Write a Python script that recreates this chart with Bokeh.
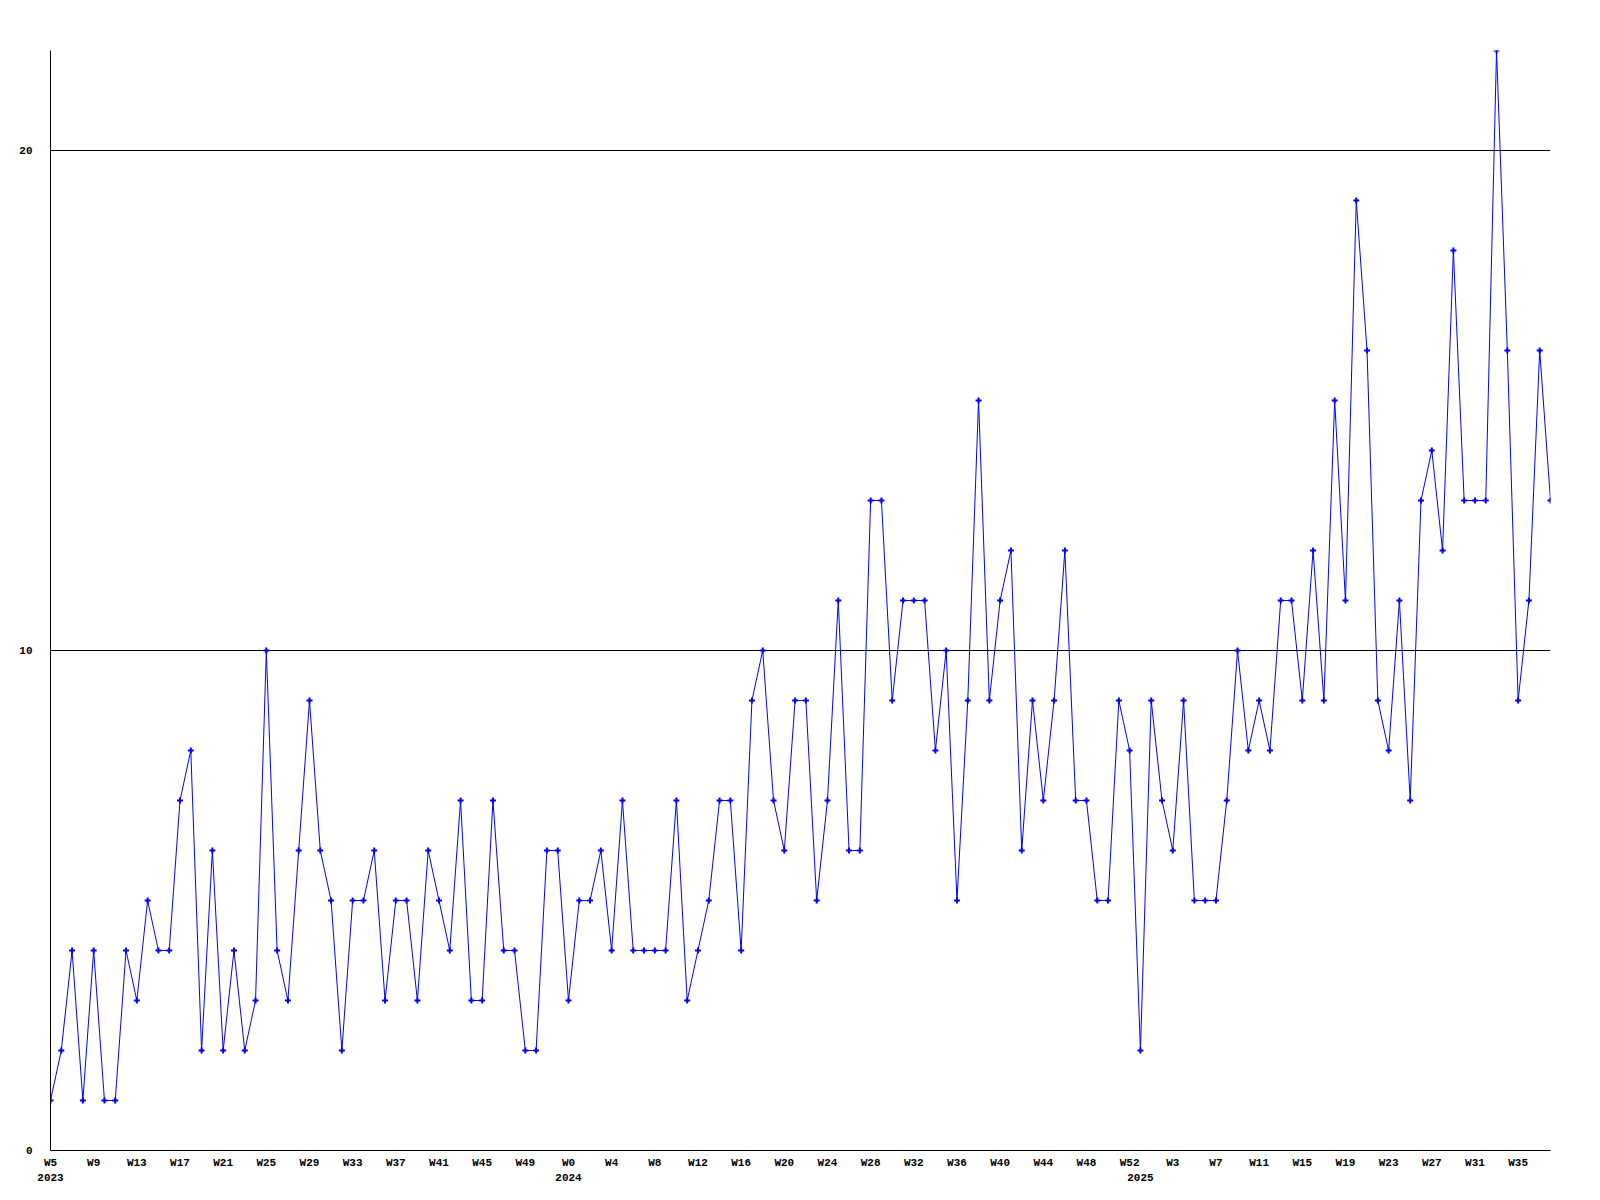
from bokeh.plotting import figure
from bokeh.models import Range1d, FixedTicker, LinearAxis
from bokeh.embed import file_html
from bokeh.resources import INLINE

# Weekly values (2023 W5..W52, 2024 W0..W52, 2025 W0..W38)
values_2023 = [1, 2, 4, 1, 4, 1, 1, 4, 3, 5, 4, 4, 7, 8, 2, 6, 2, 4, 2, 3,
               10, 4, 3, 6, 9, 6, 5, 2, 5, 5, 6, 3, 5, 5, 3, 6, 5, 4, 7, 3,
               3, 7, 4, 4, 2, 2, 6, 6]
values_2024 = [3, 5, 5, 6, 4, 7, 4, 4, 4, 4, 7, 3, 4, 5, 7, 7, 4, 9, 10, 7,
               6, 9, 9, 5, 7, 11, 6, 6, 13, 13, 9, 11, 11, 11, 8, 10, 5, 9, 15, 9,
               11, 12, 6, 9, 7, 9, 12, 7, 7, 5, 5, 9, 8]
values_2025 = [2, 9, 7, 6, 9, 5, 5, 5, 7, 10, 8, 9, 8, 11, 11, 9, 12, 9, 15, 11,
               19, 16, 9, 8, 11, 7, 13, 14, 12, 18, 13, 13, 13, 22, 16, 9, 11, 16, 13]

week_tick_labels = ["W5", "W9", "W13", "W17", "W21", "W25", "W29", "W33", "W37",
                    "W41", "W45", "W49", "W0", "W4", "W8", "W12", "W16", "W20",
                    "W24", "W28", "W32", "W36", "W40", "W44", "W48", "W52", "W3",
                    "W7", "W11", "W15", "W19", "W23", "W27", "W31", "W35"]
year_labels = ["2023", "2024", "2025"]
y_ticks = [0, 10, 20]

values = values_2023 + values_2024 + values_2025
xs = list(range(len(values)))
week_tick_pos = list(range(0, len(values), 4))[:len(week_tick_labels)]
year_pos = [0, len(values_2023), len(values_2023) + len(values_2024)]

FONT = "Liberation Mono"

p = figure(width=1584, height=1184, output_backend="svg", toolbar_location=None,
           x_range=Range1d(0, len(values) - 1), y_range=Range1d(0, 22),
           min_border_left=50, min_border_right=34, min_border_top=50,
           min_border_bottom=34, outline_line_color=None,
           background_fill_color="white", border_fill_color="white")

p.line(xs, values, line_color="#0000ff", line_width=1)
p.scatter(xs, values, marker="cross", size=6, line_color="#0000ff", line_width=2)

# x axis: week labels
xa = p.xaxis[0]
xa.ticker = FixedTicker(ticks=week_tick_pos)
xa.major_label_overrides = {t: l for t, l in zip(week_tick_pos, week_tick_labels)}
xa.major_tick_line_color = None
xa.minor_tick_line_color = None
xa.axis_line_color = "black"
xa.major_label_standoff = 0
xa.major_label_text_font = FONT
xa.major_label_text_font_style = "bold"
xa.major_label_text_font_size = "11px"
xa.major_label_text_color = "black"

# second x axis: years
ya2 = LinearAxis(ticker=FixedTicker(ticks=year_pos))
ya2.major_label_overrides = {t: l for t, l in zip(year_pos, year_labels)}
ya2.axis_line_color = None
ya2.major_tick_line_color = None
ya2.minor_tick_line_color = None
ya2.major_label_standoff = -4
ya2.major_label_text_font = FONT
ya2.major_label_text_font_style = "bold"
ya2.major_label_text_font_size = "11px"
ya2.major_label_text_color = "black"
p.add_layout(ya2, "below")

# y axis
ya = p.yaxis[0]
ya.ticker = FixedTicker(ticks=y_ticks)
ya.major_tick_line_color = None
ya.minor_tick_line_color = None
ya.axis_line_color = "black"
ya.major_label_standoff = 12
ya.major_label_text_font = FONT
ya.major_label_text_font_style = "bold"
ya.major_label_text_font_size = "11px"
ya.major_label_text_color = "black"

p.xgrid.visible = False
p.ygrid.ticker = FixedTicker(ticks=[t for t in y_ticks if t > 0])
p.ygrid.grid_line_color = "black"
p.ygrid.grid_line_alpha = 1.0
p.ygrid.grid_line_width = 1

open("out.html", "w").write(file_html(p, INLINE))
